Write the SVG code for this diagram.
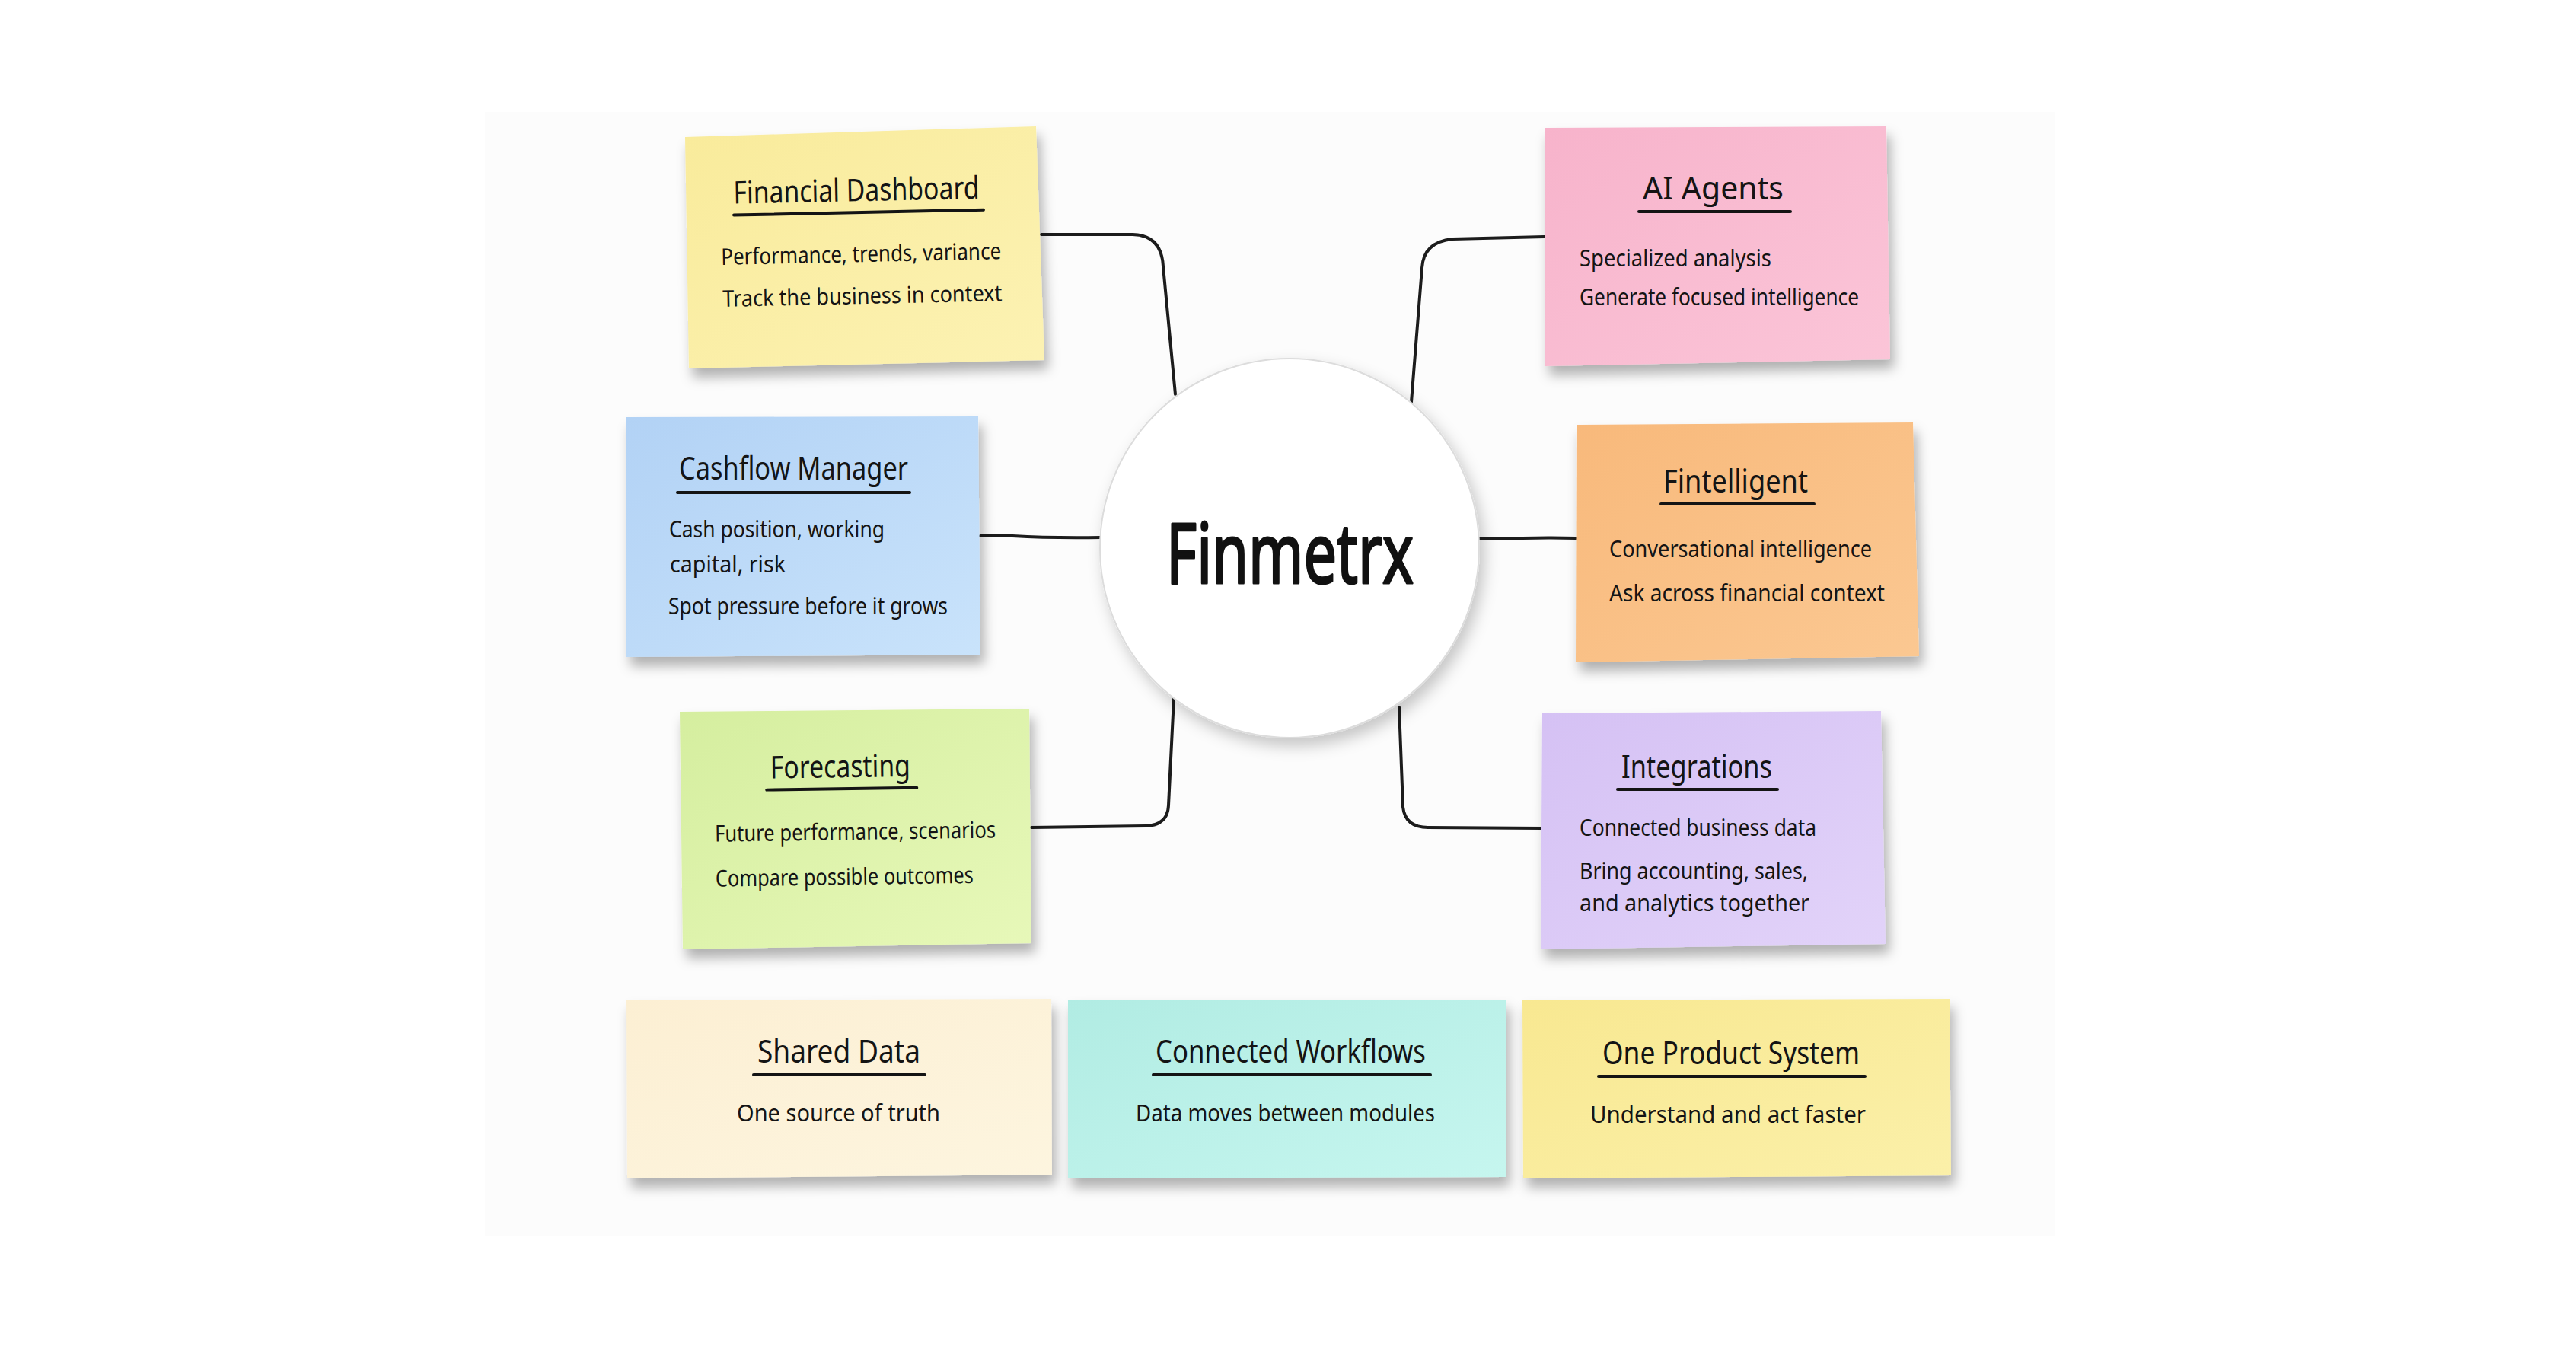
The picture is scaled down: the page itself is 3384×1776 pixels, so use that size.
<svg xmlns="http://www.w3.org/2000/svg" width="3384" height="1776" viewBox="0 0 3384 1776">
  <style>
    .note { filter: url(#noteShadow); }
    .title { font-family: "Noto Sans", "Liberation Sans", sans-serif; font-size: 41px; fill: #141414; }
    .body { font-family: "Noto Sans", "Liberation Sans", sans-serif; font-size: 30px; fill: #141414; }
    .hub { font-family: "Noto Sans", "Liberation Sans", sans-serif; font-size: 110px; font-weight: normal; fill: #111111; stroke: #111111; stroke-width: 3; stroke-linejoin: round; }
    .ul { stroke: #141414; stroke-width: 4; stroke-linecap: round; fill: none; }
    .conn { stroke: #1c1c1c; stroke-width: 4; fill: none; stroke-linecap: round; stroke-linejoin: round; }
  </style>
  <defs>
    <filter id="noteShadow" x="-10%" y="-10%" width="125%" height="135%">
      <feDropShadow dx="5" dy="12" stdDeviation="8" flood-color="#000000" flood-opacity="0.3"/>
    </filter>
    <filter id="hubShadow" x="-15%" y="-15%" width="135%" height="135%">
      <feDropShadow dx="6" dy="10" stdDeviation="10" flood-color="#000000" flood-opacity="0.22"/>
    </filter>
    <linearGradient id="gYellow" x1="0" y1="0" x2="1" y2="1">
      <stop offset="0" stop-color="#f9eb9b"/>
      <stop offset="1" stop-color="#fcf2b3"/>
    </linearGradient>
    <linearGradient id="gPink" x1="0" y1="0" x2="1" y2="1">
      <stop offset="0" stop-color="#f7b3cb"/>
      <stop offset="1" stop-color="#fbc5d8"/>
    </linearGradient>
    <linearGradient id="gBlue" x1="0" y1="0" x2="1" y2="1">
      <stop offset="0" stop-color="#b2d2f5"/>
      <stop offset="1" stop-color="#c9e3fb"/>
    </linearGradient>
    <linearGradient id="gOrange" x1="0" y1="0" x2="1" y2="1">
      <stop offset="0" stop-color="#f8b97b"/>
      <stop offset="1" stop-color="#fbc892"/>
    </linearGradient>
    <linearGradient id="gGreen" x1="0" y1="0" x2="1" y2="1">
      <stop offset="0" stop-color="#d5ee9f"/>
      <stop offset="1" stop-color="#e7f8b9"/>
    </linearGradient>
    <linearGradient id="gLavender" x1="0" y1="0" x2="1" y2="1">
      <stop offset="0" stop-color="#d5c1f4"/>
      <stop offset="1" stop-color="#e2d3f9"/>
    </linearGradient>
    <linearGradient id="gCream" x1="0" y1="0" x2="1" y2="1">
      <stop offset="0" stop-color="#fcefd3"/>
      <stop offset="1" stop-color="#fdf5df"/>
    </linearGradient>
    <linearGradient id="gAqua" x1="0" y1="0" x2="1" y2="1">
      <stop offset="0" stop-color="#b1ece3"/>
      <stop offset="1" stop-color="#c6f6ef"/>
    </linearGradient>
    <linearGradient id="gYellow2" x1="0" y1="0" x2="1" y2="1">
      <stop offset="0" stop-color="#f8e891"/>
      <stop offset="1" stop-color="#fbf0a9"/>
    </linearGradient>
  </defs>

  <rect x="0" y="0" width="3384" height="1776" fill="#ffffff"/>
  <rect x="637" y="147" width="2063" height="1476" fill="#fcfcfc"/>

  <g id="connectors">
    <path class="conn" d="M1368,308 L1488,308 Q1526,309 1528,350 L1544,518"/>
    <path class="conn" d="M2029,311 L1908,314 Q1870,318 1868,352 L1854,528"/>
    <path class="conn" d="M1288,704 L1330,704 Q1380,707 1446,706"/>
    <path class="conn" d="M1942,708 L2000,707 Q2040,706 2070,707"/>
    <path class="conn" d="M1355,1087 L1505,1085 Q1534,1084 1535,1058 L1542,917"/>
    <path class="conn" d="M1838,929 L1843,1060 Q1846,1087 1876,1087 L2026,1088"/>
  </g>

  <g id="node-financial-dashboard">
    <polygon class="note" points="900,180 1361,166 1372,473 905,484" fill="url(#gYellow)"/>
    <g transform="rotate(-1.2 1135 326)">
      <text class="title" x="965" y="264" textLength="323" lengthAdjust="spacingAndGlyphs">Financial Dashboard</text>
      <line class="ul" x1="965" y1="279" x2="1293" y2="279"/>
      <text class="body" x="947" y="344" textLength="368" lengthAdjust="spacingAndGlyphs">Performance, trends, variance</text>
      <text class="body" x="948" y="399" textLength="367" lengthAdjust="spacingAndGlyphs">Track the business in context</text>
    </g>
  </g>

  <g id="node-ai-agents">
    <polygon class="note" points="2029,168 2478,166 2483,472 2030,481" fill="url(#gPink)"/>
    <text class="title" x="2158" y="262" textLength="185" lengthAdjust="spacingAndGlyphs">AI Agents</text>
    <line class="ul" x1="2153" y1="278" x2="2352" y2="278"/>
    <text class="body" x="2075" y="350" textLength="252" lengthAdjust="spacingAndGlyphs">Specialized analysis</text>
    <text class="body" x="2075" y="401" textLength="367" lengthAdjust="spacingAndGlyphs">Generate focused intelligence</text>
  </g>

  <g id="node-cashflow-manager">
    <polygon class="note" points="823,548 1285,547 1288,860 823,863" fill="url(#gBlue)"/>
    <text class="title" x="892" y="630" textLength="301" lengthAdjust="spacingAndGlyphs">Cashflow Manager</text>
    <line class="ul" x1="890" y1="647" x2="1195" y2="647"/>
    <text class="body" x="879" y="706" textLength="283" lengthAdjust="spacingAndGlyphs">Cash position, working</text>
    <text class="body" x="880" y="752" textLength="152" lengthAdjust="spacingAndGlyphs">capital, risk</text>
    <text class="body" x="878" y="807" textLength="367" lengthAdjust="spacingAndGlyphs">Spot pressure before it grows</text>
  </g>

  <g id="node-fintelligent">
    <polygon class="note" points="2071,558 2513,555 2521,862 2070,870" fill="url(#gOrange)"/>
    <text class="title" x="2185" y="647" textLength="190" lengthAdjust="spacingAndGlyphs">Fintelligent</text>
    <line class="ul" x1="2182" y1="662" x2="2383" y2="662"/>
    <text class="body" x="2114" y="732" textLength="345" lengthAdjust="spacingAndGlyphs">Conversational intelligence</text>
    <text class="body" x="2114" y="790" textLength="362" lengthAdjust="spacingAndGlyphs">Ask across financial context</text>
  </g>

  <g id="node-forecasting">
    <polygon class="note" points="893,935 1352,931 1355,1239 897,1247" fill="url(#gGreen)"/>
    <g transform="rotate(-0.8 1124 1090)">
      <text class="title" x="1013" y="1021" textLength="184" lengthAdjust="spacingAndGlyphs">Forecasting</text>
      <line class="ul" x1="1008" y1="1036" x2="1205" y2="1036"/>
      <text class="body" x="939" y="1103" textLength="369" lengthAdjust="spacingAndGlyphs">Future performance, scenarios</text>
      <text class="body" x="939" y="1162" textLength="339" lengthAdjust="spacingAndGlyphs">Compare possible outcomes</text>
    </g>
  </g>

  <g id="node-integrations">
    <polygon class="note" points="2026,937 2471,934 2477,1240 2024,1247" fill="url(#gLavender)"/>
    <text class="title" x="2130" y="1022" textLength="198" lengthAdjust="spacingAndGlyphs">Integrations</text>
    <line class="ul" x1="2125" y1="1037" x2="2335" y2="1037"/>
    <text class="body" x="2075" y="1098" textLength="311" lengthAdjust="spacingAndGlyphs">Connected business data</text>
    <text class="body" x="2075" y="1155" textLength="300" lengthAdjust="spacingAndGlyphs">Bring accounting, sales,</text>
    <text class="body" x="2075" y="1197" textLength="302" lengthAdjust="spacingAndGlyphs">and analytics together</text>
  </g>

  <g id="node-shared-data">
    <polygon class="note" points="823,1314 1381,1312 1382,1543 824,1548" fill="url(#gCream)"/>
    <text class="title" x="995" y="1396" textLength="214" lengthAdjust="spacingAndGlyphs">Shared Data</text>
    <line class="ul" x1="990" y1="1412" x2="1215" y2="1412"/>
    <text class="body" x="968" y="1473" textLength="267" lengthAdjust="spacingAndGlyphs">One source of truth</text>
  </g>

  <g id="node-connected-workflows">
    <polygon class="note" points="1403,1313 1978,1313 1978,1546 1403,1548" fill="url(#gAqua)"/>
    <text class="title" x="1518" y="1396" textLength="355" lengthAdjust="spacingAndGlyphs">Connected Workflows</text>
    <line class="ul" x1="1515" y1="1412" x2="1879" y2="1412"/>
    <text class="body" x="1492" y="1473" textLength="393" lengthAdjust="spacingAndGlyphs">Data moves between modules</text>
  </g>

  <g id="node-one-product-system">
    <polygon class="note" points="2000,1314 2561,1312 2563,1544 2001,1548" fill="url(#gYellow2)"/>
    <text class="title" x="2105" y="1398" textLength="338" lengthAdjust="spacingAndGlyphs">One Product System</text>
    <line class="ul" x1="2100" y1="1414" x2="2450" y2="1414"/>
    <text class="body" x="2089" y="1475" textLength="362" lengthAdjust="spacingAndGlyphs">Understand and act faster</text>
  </g>

  <g id="node-finmetrx">
    <circle cx="1694" cy="720" r="249" fill="#ffffff" stroke="#dcdcdc" stroke-width="2" filter="url(#hubShadow)"/>
    <text class="hub" x="1532" y="766" textLength="325" lengthAdjust="spacingAndGlyphs">Finmetrx</text>
  </g>
</svg>
